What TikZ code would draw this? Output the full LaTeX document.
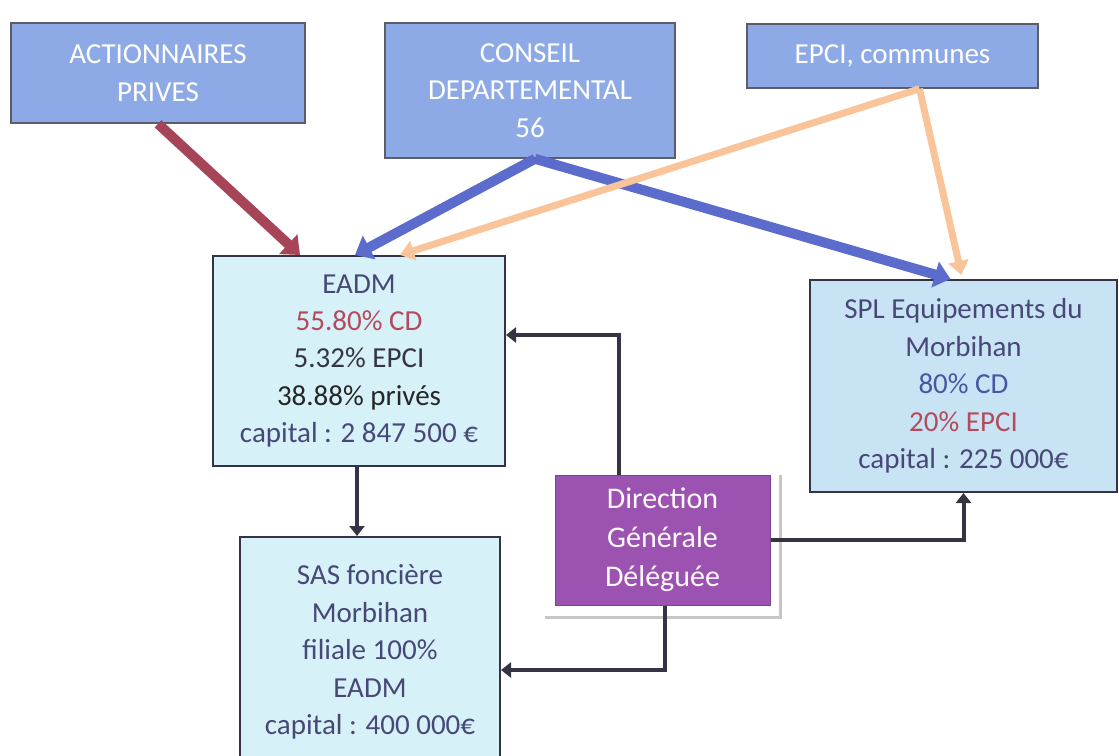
\documentclass[tikz,border=0pt]{standalone}
\usepackage{fontspec}
\setmainfont{Carlito}
\usepackage{tikz}
\usetikzlibrary{arrows.meta}
\definecolor{topblue}{RGB}{142,170,230}
\definecolor{entcyan}{RGB}{214,241,248}
\definecolor{splblue}{RGB}{200,228,244}
\definecolor{dirpurple}{RGB}{156,82,176}
\definecolor{privred}{RGB}{166,68,88}
\definecolor{cdblue}{RGB}{92,108,204}
\definecolor{epciorange}{RGB}{249,196,154}
\definecolor{linkgray}{RGB}{52,52,68}
\definecolor{txtslate}{RGB}{72,72,120}
\definecolor{txtred}{RGB}{180,74,90}
\tikzset{
  topbox/.style={draw=linkgray!80, line width=0.8pt, fill=topblue, text=white,
    align=center, inner sep=2pt, font=\fontsize{14.5}{18.7}\selectfont},
  entbox/.style={draw=linkgray, line width=1pt, fill=entcyan, text=txtslate,
    align=center, inner sep=2pt, font=\fontsize{14.5}{18.7}\selectfont},
  dirbox/.style={draw=dirpurple!80!black, line width=0.5pt, fill=dirpurple, text=white!92!pink,
    align=center, inner sep=2pt, font=\fontsize{15}{19.5}\selectfont},
  privarrow/.style={-{Triangle[length=8pt,width=13pt]}, line width=5pt, privred},
  cdarrow/.style={-{Triangle[length=8pt,width=13pt]}, line width=5pt, cdblue},
  epciarrow/.style={-{Triangle[length=7pt,width=10pt]}, line width=3.5pt, epciorange},
  link/.style={-{Triangle[length=5pt,width=7.5pt]}, line width=2pt, linkgray}
}

\begin{document}
\begin{tikzpicture}[x=0.5pt, y=-0.5pt]
    \useasboundingbox (0,0) rectangle (1119,755);
    % actionnaires
    \node[topbox, minimum width=147pt, minimum height=50pt] (act) at (158,73)
      {ACTIONNAIRES\\PRIVES};
    \node[topbox, minimum width=145pt, minimum height=67.5pt] (cd) at (530,90.5)
      {CONSEIL\\DEPARTEMENTAL\\56};
    \node[topbox, minimum width=145.5pt, minimum height=32pt] (epci) at (892.5,56)
      {EPCI, communes};
    % structures
    \node[entbox, minimum width=146pt, minimum height=105pt] (eadm) at (359,361)
      {EADM\\\textcolor{txtred}{55.80\% CD}\\\textcolor{linkgray}{5.32\% EPCI}\\
       \textcolor{black!85}{38.88\% privés}\\capital : 2 847 500 €};
    \node[entbox, fill=splblue, minimum width=153.5pt, minimum height=106pt] (spl) at (963.5,386)
      {SPL Equipements du\\Morbihan\\\textcolor{cdblue!80!black}{80\% CD}\\
       \textcolor{txtred}{20\% EPCI}\\capital : 225 000€};
    \node[entbox, minimum width=130pt, minimum height=115pt] (sas) at (370,652)
      {SAS foncière\\Morbihan\\filiale 100\%\\EADM\\capital : 400 000€};
    \node[dirbox, minimum width=107.5pt, minimum height=65pt] (dgd) at (662.5,540)
      {Direction\\Générale\\Déléguée};
    \draw[gray!45, line width=1.2pt] ([shift={(-5pt,-6pt)}]dgd.south west)
      -- ([shift={(5pt,-6pt)}]dgd.south east) -- ([xshift=5pt]dgd.north east);
    % capital
    \draw[privarrow] (act.south) -- ([xshift=-29.5pt]eadm.north);
    \draw[cdarrow] ([xshift=2.5pt]cd.south) -- ([xshift=-2pt]eadm.north);
    \draw[cdarrow] ([xshift=2.5pt]cd.south) -- ([xshift=-6.5pt]spl.north);
    \draw[epciarrow] ([xshift=13.5pt]epci.south) -- ([xshift=20.5pt]eadm.north);
    \draw[epciarrow] ([xshift=13.5pt]epci.south) -- ([xshift=-1pt,yshift=2pt]spl.north);
    % direction
    \draw[link] ([xshift=-1pt]eadm.south) -- ([xshift=-6.5pt]sas.north);
    \draw[link] ([xshift=-22pt]dgd.north) |- ([yshift=13pt]eadm.east);
    \draw[link] (dgd.east) -| (spl.south);
    \draw[link] ([xshift=1pt]dgd.south) |- ([yshift=-9pt]sas.east);
  \end{tikzpicture}
\end{document}
